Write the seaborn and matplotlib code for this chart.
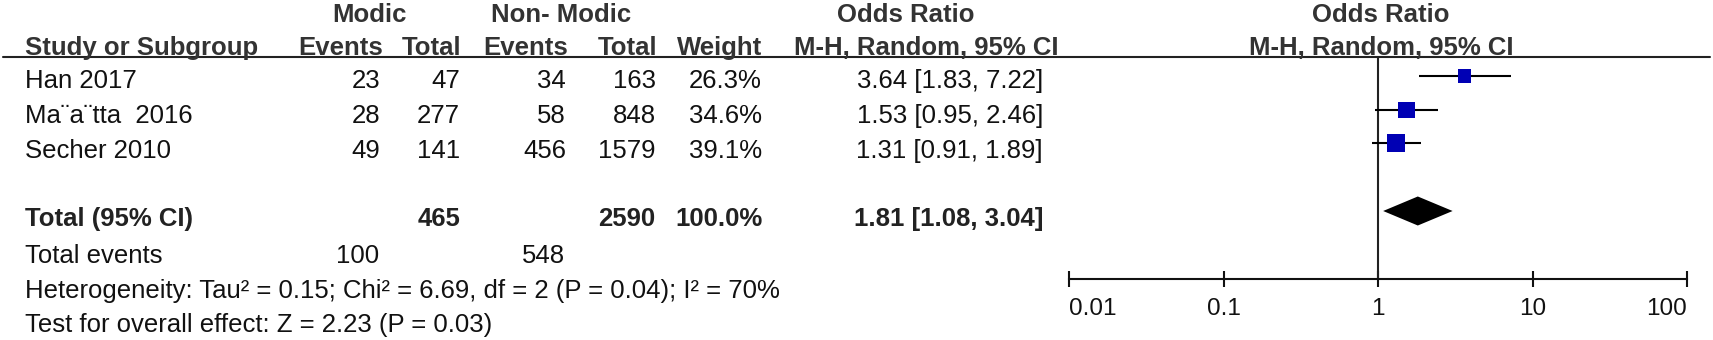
import matplotlib
matplotlib.use('Agg')
import matplotlib.pyplot as plt
import numpy as np
import pandas as pd
import seaborn as sns

# study level data
studies = ['Han 2017', 'Ma\u00a8a\u00a8tta  2016', 'Secher 2010']
modic_events = [23, 28, 49]
modic_total = [47, 277, 141]
non_events = [34, 58, 456]
non_total = [163, 848, 1579]
weights = [26.3, 34.6, 39.1]
odds = [3.64, 1.53, 1.31]
ci_low = [1.83, 0.95, 0.91]
ci_high = [7.22, 2.46, 1.89]

# pooled
tot_modic, tot_non = 465, 2590
tot_weight = 100.0
tot_or, tot_low, tot_high = 1.81, 1.08, 3.04
ev_modic, ev_non = 100, 548
het_text = 'Heterogeneity: Tau\u00b2 = 0.15; Chi\u00b2 = 6.69, df = 2 (P = 0.04); I\u00b2 = 70%'
test_text = 'Test for overall effect: Z = 2.23 (P = 0.03)'

ticks = [0.01, 0.1, 1, 10, 100]
tick_labels = ['0.01', '0.1', '1', '10', '100']

sns.set_style('white')
plt.rcParams['font.family'] = ['Liberation Sans', 'DejaVu Sans']

W, H = 1713, 340
fig = plt.figure(figsize=(W / 100, H / 100), dpi=100)

# table part, pixel coordinates
tab = fig.add_axes([0, 0, 1, 1])
tab.set_xlim(0, W)
tab.set_ylim(H, 0)
tab.axis('off')

fs = 18.5
hd = dict(fontsize=fs, fontweight='bold', color='#333333', va='baseline')
tx = dict(fontsize=fs, color='#111111', va='baseline')

# header rows
tab.text(369, 22, 'Modic', ha='center', **hd)
tab.text(561, 22, 'Non- Modic', ha='center', **hd)
tab.text(906, 22, 'Odds Ratio', ha='center', **hd)
tab.text(1381, 22, 'Odds Ratio', ha='center', **hd)
tab.text(25, 55, 'Study or Subgroup', ha='left', **hd)
tab.text(383, 55, 'Events', ha='right', **hd)
tab.text(461, 55, 'Total', ha='right', **hd)
tab.text(568, 55, 'Events', ha='right', **hd)
tab.text(657, 55, 'Total', ha='right', **hd)
tab.text(762, 55, 'Weight', ha='right', **hd)
tab.text(926, 55, 'M-H, Random, 95% CI', ha='center', **hd)
tab.text(1381, 55, 'M-H, Random, 95% CI', ha='center', **hd)
tab.plot([3, 1710], [57, 57], color='#222222', lw=1.5)

cols = [380, 460, 566, 656, 762, 1043]
row_base = [88, 123, 158]
for i, name in enumerate(studies):
    y = row_base[i]
    tab.text(25, y, name, ha='left', **tx)
    vals = [str(modic_events[i]), str(modic_total[i]), str(non_events[i]),
            str(non_total[i]), f'{weights[i]:.1f}%',
            f'{odds[i]:.2f} [{ci_low[i]:.2f}, {ci_high[i]:.2f}]']
    for x, v in zip(cols, vals):
        tab.text(x, y, v, ha='right', **tx)

bd = dict(fontsize=fs, fontweight='bold', color='#222222', va='baseline')
tab.text(25, 226, 'Total (95% CI)', ha='left', **bd)
tab.text(460, 226, str(tot_modic), ha='right', **bd)
tab.text(655, 226, str(tot_non), ha='right', **bd)
tab.text(763, 226, f'{tot_weight:.1f}%', ha='right', **bd)
tab.text(1044, 226, f'{tot_or:.2f} [{tot_low:.2f}, {tot_high:.2f}]', ha='right', **bd)
tab.text(25, 263, 'Total events', ha='left', **tx)
tab.text(379, 263, str(ev_modic), ha='right', **tx)
tab.text(565, 263, str(ev_non), ha='right', **tx)
tab.text(25, 298, het_text, ha='left', **tx)
tab.text(25, 332, test_text, ha='left', **tx)

# forest plot
x0, x1, ytop, ybot = 1069, 1687, 57, 279
ax = fig.add_axes([x0 / W, 1 - ybot / H, (x1 - x0) / W, (ybot - ytop) / H])
ax.set_facecolor('none')

rows = list(range(len(studies)))
total_row = 4
df = pd.DataFrame({'study': studies, 'row': rows, 'or': odds,
                   'lo': ci_low, 'hi': ci_high, 'weight': weights})

ax.hlines(df['row'], df['lo'], df['hi'], color='black', lw=1.5, zorder=2)
sns.scatterplot(data=df, x='or', y='row', size='weight', sizes=(88, 168),
                marker='s', color='#0000B4', linewidth=0, legend=False,
                ax=ax, zorder=3)

dh = 0.43
ax.fill([tot_low, tot_or, tot_high, tot_or],
        [total_row, total_row - dh, total_row, total_row + dh],
        color='black', lw=0, zorder=3)
ax.axvline(1, color='#222222', lw=1.5, zorder=1)

ax.set_xscale('log')
ax.set_xlim(ticks[0], ticks[-1])
ax.set_ylim(6.015, -0.563)
ax.set_xticks(ticks)
ax.set_xticklabels(tick_labels)
ax.minorticks_off()
ax.set_yticks([])
ax.set_xlabel('')
ax.set_ylabel('')
for s in ['top', 'left', 'right']:
    ax.spines[s].set_visible(False)
ax.spines['bottom'].set_linewidth(1.5)
ax.spines['bottom'].set_color('#111111')
ax.tick_params(axis='x', bottom=True, direction='inout', length=11, width=1.5,
               color='#111111', labelsize=17.5, pad=8, labelcolor='#111111')
labs = ax.get_xticklabels()
labs[0].set_ha('left')
labs[-1].set_ha('right')

fig.savefig('out.png', dpi=100)
